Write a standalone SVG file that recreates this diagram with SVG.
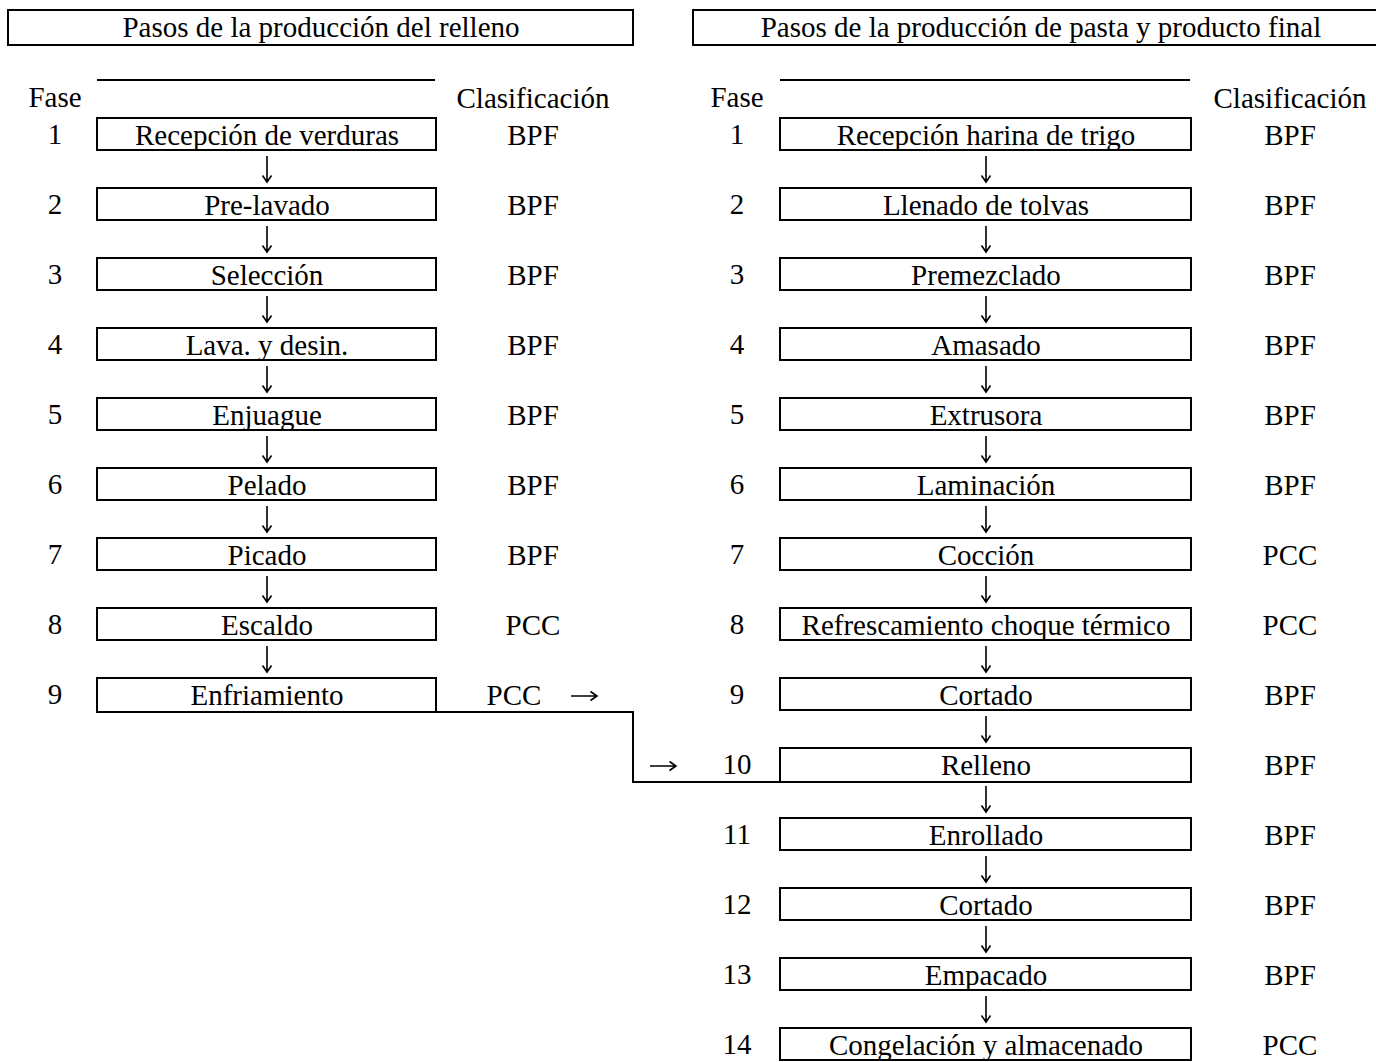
<svg xmlns="http://www.w3.org/2000/svg" width="1376" height="1062" viewBox="0 0 1376 1062">
<style>
text{font-family:"Liberation Serif","Times New Roman",serif;font-size:29px;fill:#000;text-anchor:middle}
.box{fill:#fff;stroke:#000;stroke-width:2}
.ln{fill:none;stroke:#000;stroke-width:2}
.ar{fill:none;stroke:#000;stroke-width:1.6}
</style>
<defs>
<path id="down" class="ar" d="M0,-13 V13 M-4.5,6.5 L0,13 L4.5,6.5"/>
<path id="right" class="ar" d="M-13,0 H13 M6.5,-4.5 L13,0 L6.5,4.5"/>
</defs>
<rect width="1376" height="1062" fill="#fff"/>
<g id="header-left"><rect class="box" x="8" y="10" width="625" height="35"/><text x="321" y="37">Pasos de la producción del relleno</text></g>
<g id="header-right"><rect class="box" x="693" y="10" width="700" height="35"/><text x="1041" y="37">Pasos de la producción de pasta y producto final</text></g>
<g id="col-heads">
<line class="ln" x1="97" y1="80" x2="435" y2="80"/>
<line class="ln" x1="780" y1="80" x2="1190" y2="80"/>
<text x="55" y="107">Fase</text><text x="533" y="108">Clasificación</text>
<text x="737" y="107">Fase</text><text x="1290" y="108">Clasificación</text>
</g>
<g id="left-steps">
<g id="L1"><text x="55" y="144">1</text><rect class="box" x="97" y="118" width="339" height="32"/><text x="267" y="145">Recepción de verduras</text><text x="533" y="145">BPF</text></g>
<g id="L2"><text x="55" y="214">2</text><rect class="box" x="97" y="188" width="339" height="32"/><text x="267" y="215">Pre-lavado</text><text x="533" y="215">BPF</text></g>
<g id="L3"><text x="55" y="284">3</text><rect class="box" x="97" y="258" width="339" height="32"/><text x="267" y="285">Selección</text><text x="533" y="285">BPF</text></g>
<g id="L4"><text x="55" y="354">4</text><rect class="box" x="97" y="328" width="339" height="32"/><text x="267" y="355">Lava. y desin.</text><text x="533" y="355">BPF</text></g>
<g id="L5"><text x="55" y="424">5</text><rect class="box" x="97" y="398" width="339" height="32"/><text x="267" y="425">Enjuague</text><text x="533" y="425">BPF</text></g>
<g id="L6"><text x="55" y="494">6</text><rect class="box" x="97" y="468" width="339" height="32"/><text x="267" y="495">Pelado</text><text x="533" y="495">BPF</text></g>
<g id="L7"><text x="55" y="564">7</text><rect class="box" x="97" y="538" width="339" height="32"/><text x="267" y="565">Picado</text><text x="533" y="565">BPF</text></g>
<g id="L8"><text x="55" y="634">8</text><rect class="box" x="97" y="608" width="339" height="32"/><text x="267" y="635">Escaldo</text><text x="533" y="635">PCC</text></g>
<g id="L9"><text x="55" y="704">9</text><rect class="box" x="97" y="678" width="339" height="34"/><text x="267" y="705">Enfriamiento</text><text x="514" y="705">PCC</text></g>
</g>
<g id="right-steps">
<g id="R1"><text x="737" y="144">1</text><rect class="box" x="780" y="118" width="411" height="32"/><text x="986" y="145">Recepción harina de trigo</text><text x="1290" y="145">BPF</text></g>
<g id="R2"><text x="737" y="214">2</text><rect class="box" x="780" y="188" width="411" height="32"/><text x="986" y="215">Llenado de tolvas</text><text x="1290" y="215">BPF</text></g>
<g id="R3"><text x="737" y="284">3</text><rect class="box" x="780" y="258" width="411" height="32"/><text x="986" y="285">Premezclado</text><text x="1290" y="285">BPF</text></g>
<g id="R4"><text x="737" y="354">4</text><rect class="box" x="780" y="328" width="411" height="32"/><text x="986" y="355">Amasado</text><text x="1290" y="355">BPF</text></g>
<g id="R5"><text x="737" y="424">5</text><rect class="box" x="780" y="398" width="411" height="32"/><text x="986" y="425">Extrusora</text><text x="1290" y="425">BPF</text></g>
<g id="R6"><text x="737" y="494">6</text><rect class="box" x="780" y="468" width="411" height="32"/><text x="986" y="495">Laminación</text><text x="1290" y="495">BPF</text></g>
<g id="R7"><text x="737" y="564">7</text><rect class="box" x="780" y="538" width="411" height="32"/><text x="986" y="565">Cocción</text><text x="1290" y="565">PCC</text></g>
<g id="R8"><text x="737" y="634">8</text><rect class="box" x="780" y="608" width="411" height="32"/><text x="986" y="635">Refrescamiento choque térmico</text><text x="1290" y="635">PCC</text></g>
<g id="R9"><text x="737" y="704">9</text><rect class="box" x="780" y="678" width="411" height="32"/><text x="986" y="705">Cortado</text><text x="1290" y="705">BPF</text></g>
<g id="R10"><text x="737" y="774">10</text><rect class="box" x="780" y="748" width="411" height="34"/><text x="986" y="775">Relleno</text><text x="1290" y="775">BPF</text></g>
<g id="R11"><text x="737" y="844">11</text><rect class="box" x="780" y="818" width="411" height="32"/><text x="986" y="845">Enrollado</text><text x="1290" y="845">BPF</text></g>
<g id="R12"><text x="737" y="914">12</text><rect class="box" x="780" y="888" width="411" height="32"/><text x="986" y="915">Cortado</text><text x="1290" y="915">BPF</text></g>
<g id="R13"><text x="737" y="984">13</text><rect class="box" x="780" y="958" width="411" height="32"/><text x="986" y="985">Empacado</text><text x="1290" y="985">BPF</text></g>
<g id="R14"><text x="737" y="1054">14</text><rect class="box" x="780" y="1028" width="411" height="32"/><text x="986" y="1055">Congelación y almacenado</text><text x="1290" y="1055">PCC</text></g>
</g>
<g id="connectors">
<use href="#down" x="267" y="169"/><use href="#down" x="267" y="239"/><use href="#down" x="267" y="309"/><use href="#down" x="267" y="379"/>
<use href="#down" x="267" y="449"/><use href="#down" x="267" y="519"/><use href="#down" x="267" y="589"/><use href="#down" x="267" y="659"/>
<use href="#down" x="986" y="169"/><use href="#down" x="986" y="239"/><use href="#down" x="986" y="309"/><use href="#down" x="986" y="379"/>
<use href="#down" x="986" y="449"/><use href="#down" x="986" y="519"/><use href="#down" x="986" y="589"/><use href="#down" x="986" y="659"/>
<use href="#down" x="986" y="729"/><use href="#down" x="986" y="799"/><use href="#down" x="986" y="869"/><use href="#down" x="986" y="939"/><use href="#down" x="986" y="1009"/>
<use href="#right" x="584" y="696"/><use href="#right" x="663" y="766"/>
<polyline class="ln" points="436,712 633,712 633,782 780,782"/>
</g>
</svg>
